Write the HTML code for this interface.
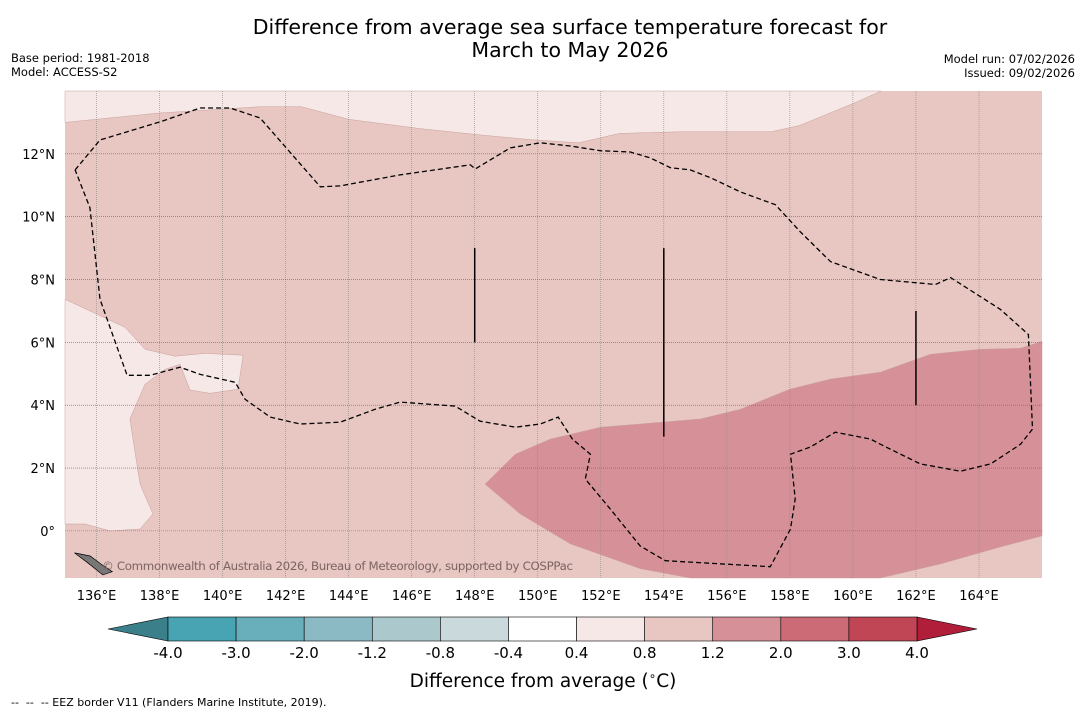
<!DOCTYPE html>
<html><head><meta charset="utf-8"><style>
body{margin:0;background:#fff;font-family:"DejaVu Sans","Liberation Sans",sans-serif}
svg text{font-family:"DejaVu Sans","Liberation Sans",sans-serif;white-space:pre}
</style></head><body>
<svg id="c" width="1085" height="713">
<text x="570" y="34" font-size="20.5" text-anchor="middle">Difference from average sea surface temperature forecast for</text>
<text x="570" y="57" font-size="20.5" text-anchor="middle">March to May 2026</text>
<text x="11" y="62" font-size="11.5">Base period: 1981-2018</text>
<text x="11" y="76" font-size="11.5">Model: ACCESS-S2</text>
<text x="1075" y="63" font-size="11.5" text-anchor="end">Model run: 07/02/2026</text>
<text x="1075" y="77" font-size="11.5" text-anchor="end">Issued: 09/02/2026</text>
<g id="map"></g>
<g id="cbar"></g>
<text x="543" y="687" font-size="18.5" text-anchor="middle">Difference from average (<tspan baseline-shift="super" font-size="12">∘</tspan>C)</text>
<text x="11" y="706" font-size="11">--  --  -- EEZ border V11 (Flanders Marine Institute, 2019).</text>
</svg>
<script>
const lonTicks=[136,138,140,142,144,146,148,150,152,154,156,158,160,162,164];
const latTicks=[0,2,4,6,8,10,12];
const lonMin=135,lonMax=166,latMin=-1.5,latMax=14;
const lightTop=[[135,13.0],[138.0,13.3],[141.2,13.5],[142.5,13.5],[144.0,13.1],[146.3,12.8],[148.2,12.6],[149.8,12.45],[151.3,12.35],[152.6,12.65],[154.5,12.7],[157.4,12.7],[158.3,12.9],[160.0,13.6],[160.9,14],[135,14]];
const lightLeft=[[135,7.37],[136.9,6.48],[137.54,5.78],[138.49,5.56],[139.44,5.65],[140.65,5.59],[140.49,4.51],[139.6,4.38],[138.97,4.48],[138.65,5.3],[138.17,5.14],[137.54,4.67],[137.06,3.56],[137.38,1.49],[137.79,0.54],[137.38,0.06],[136.43,0],[135.63,0.22],[135,0.22]];
const darkRegion=[[148.33,1.49],[149.29,2.44],[150.4,2.92],[152.0,3.3],[153.25,3.4],[155.16,3.56],[156.43,3.87],[158.0,4.51],[159.29,4.83],[160.87,5.05],[162.46,5.62],[164.05,5.78],[165.32,5.81],[166,6.03],[166,-0.16],[164.68,-0.51],[162.78,-1.05],[160.87,-1.5],[154.84,-1.5],[153.25,-1.2],[151.03,-0.41],[149.44,0.54]];
const eez=[[135.32,11.49],[136.11,12.44],[138.02,13.02],[139.29,13.46],[140.24,13.46],[141.19,13.14],[143.10,10.95],[143.73,10.98],[145.63,11.33],[147.86,11.65],[148.02,11.52],[149.13,12.19],[150.08,12.35],[151.03,12.25],[151.98,12.10],[152.94,12.06],[153.57,11.87],[154.21,11.56],[154.84,11.49],[155.48,11.24],[156.43,10.79],[157.54,10.38],[158.33,9.52],[159.29,8.57],[160.87,8.0],[162.62,7.84],[163.10,8.06],[164.68,7.05],[165.57,6.25],[165.70,3.24],[165.32,2.76],[164.37,2.13],[163.41,1.90],[162.14,2.13],[160.87,2.76],[160.56,2.92],[159.44,3.14],[158.65,2.67],[158.02,2.44],[158.17,1.02],[158.02,0.06],[157.38,-1.14],[154.05,-0.95],[153.25,-0.48],[152.30,0.70],[151.51,1.65],[151.67,2.44],[151.10,2.92],[150.65,3.62],[150.08,3.40],[149.29,3.30],[148.17,3.49],[147.38,3.97],[145.63,4.10],[144.84,3.87],[143.73,3.46],[142.46,3.40],[141.51,3.62],[140.71,4.19],[140.40,4.73],[139.29,4.98],[138.65,5.21],[137.70,4.95],[136.97,4.95],[136.11,7.37],[135.79,10.29],[135.32,11.49]];
const segLines=[[148,9,6],[154,9,3],[162,7,4]];
const cbLevels=["-4.0","-3.0","-2.0","-1.2","-0.8","-0.4","0.4","0.8","1.2","2.0","3.0","4.0"];
const cbColors=["#48a3b2","#68aebb","#8bbac5","#abc9cd","#c9d9dc","#ffffff","#f5e8e6","#e8c6c2","#d69098","#cc6a75","#c04555"];
const X0=65,X1=1042,Y0=91,Y1=578;
const sx=l=>X0+(l-lonMin)/(lonMax-lonMin)*(X1-X0);
const sy=l=>Y0+(latMax-l)/(latMax-latMin)*(Y1-Y0);
const NS="http://www.w3.org/2000/svg";
function mk(t,a,p){const e=document.createElementNS(NS,t);for(const k in a)e.setAttribute(k,a[k]);p.appendChild(e);return e;}
const map=document.getElementById('map');
const pts=a=>a.map(p=>sx(p[0]).toFixed(1)+','+sy(p[1]).toFixed(1)).join(' ');
let bg=mk('rect',{x:X0,y:Y0,width:X1-X0,height:Y1-Y0,fill:'#e8c6c2'},map);


[[lightTop,'#f5e8e6','light-region-north'],[lightLeft,'#f5e8e6','light-region-west'],[darkRegion,'#d69098','warm-region-southeast']].forEach(r=>{
 const e=mk('polygon',{points:pts(r[0]),fill:r[1],stroke:'#c9a09c','stroke-width':0.5},map);
 
 
});
lonTicks.forEach(l=>{
 const g=mk('line',{x1:sx(l),x2:sx(l),y1:Y0,y2:Y1,stroke:'#888','stroke-width':0.6,'stroke-dasharray':'1,1'},map);
 
 
 const t=mk('text',{x:sx(l),y:600,'font-size':13,'text-anchor':'middle'},map);t.textContent=l+'°E';
 
 
});
latTicks.forEach(l=>{
 const g=mk('line',{x1:X0,x2:X1,y1:sy(l),y2:sy(l),stroke:'#666','stroke-width':0.6,'stroke-dasharray':'1,1'},map);
 
 
 const t=mk('text',{x:55,y:sy(l)+5,'font-size':13,'text-anchor':'end'},map);t.textContent=l===0?'0°':l+'°N';
 
 
});
const ez=mk('polyline',{points:pts(eez),fill:'none',stroke:'#000','stroke-width':1.3,'stroke-dasharray':'5,3'},map);


segLines.forEach(s=>{
 const e=mk('line',{x1:sx(s[0]),x2:sx(s[0]),y1:sy(s[1]),y2:sy(s[2]),stroke:'#000','stroke-width':1.5},map);
 
 
});
const isl=mk('polygon',{points:pts([[135.3,-0.7],[135.8,-0.8],[136.2,-1.1],[136.5,-1.3],[136.2,-1.4],[135.7,-1.0]]),fill:'#777',stroke:'#000','stroke-width':0.7},map);


const ct=mk('text',{x:102,y:570,'font-size':11.8,fill:'#7a6462'},map);ct.textContent='© Commonwealth of Australia 2026, Bureau of Meteorology, supported by COSPPac';


ct.setAttribute('textLength','471');
const cb=document.getElementById('cbar');
const cL=168,cR=917,cT=617,cB=641,w=(cR-cL)/cbColors.length;
let tl=mk('polygon',{points:`108,${(cT+cB)/2} ${cL},${cT} ${cL},${cB}`,fill:'#3b7f8a',stroke:'#000','stroke-width':0.6},cb);


let tr=mk('polygon',{points:`977,${(cT+cB)/2} ${cR},${cT} ${cR},${cB}`,fill:'#b01e3a',stroke:'#000','stroke-width':0.6},cb);


cbColors.forEach((c,i)=>{
 const r=mk('rect',{x:cL+i*w,y:cT,width:w,height:cB-cT,fill:c,stroke:'#000','stroke-width':0.6},cb);
 
 
});
cbLevels.forEach((v,i)=>{
 const t=mk('text',{x:cL+i*w,y:658,'font-size':15,'text-anchor':'middle'},cb);t.textContent=v;
 
 
});
</script>
</body></html>
